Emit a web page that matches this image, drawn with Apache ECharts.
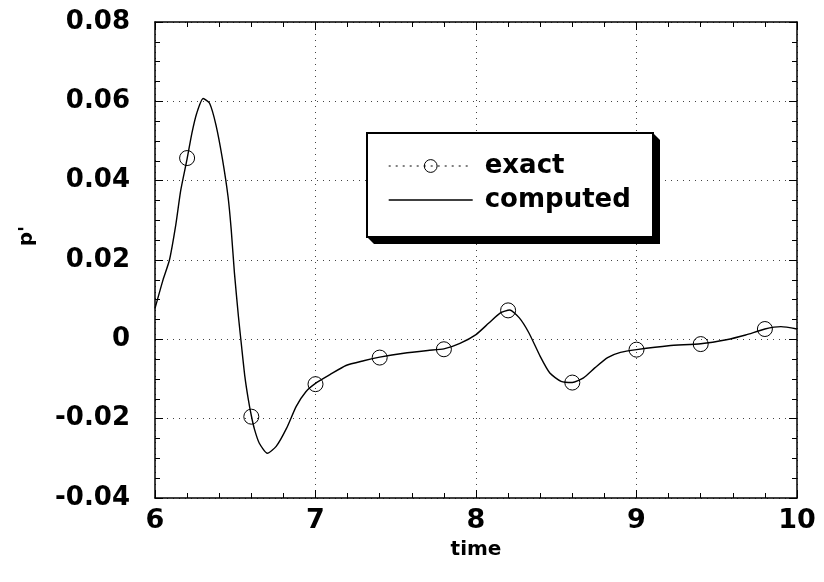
<!DOCTYPE html>
<html>
<head>
<meta charset="utf-8">
<script src="https://cdn.jsdelivr.net/npm/echarts@6/dist/echarts.min.js"></script>
<style>
  html, body { margin: 0; padding: 0; background: #fff; }
  #chart { width: 824px; height: 582px; }
</style>
</head>
<body>
<div id="chart"></div>
<script>
// computed solution
const timeComputed = [6.00, 6.05, 6.09, 6.13, 6.16, 6.20, 6.23, 6.26, 6.30, 6.34, 6.38, 6.42, 6.455, 6.475, 6.495, 6.52,
  6.54, 6.56, 6.58, 6.60, 6.62, 6.65, 6.70, 6.755, 6.82, 6.88, 6.94, 7.00, 7.09, 7.19, 7.30, 7.40, 7.55, 7.70, 7.80, 7.90, 8.00,
  8.08, 8.15, 8.21, 8.27, 8.33, 8.40, 8.46, 8.53, 8.60, 8.67, 8.74, 8.82, 8.90, 9.00, 9.20, 9.40, 9.56, 9.68, 9.80, 9.90, 10.00];
const pComputed = [0.0078, 0.0150, 0.0200, 0.0290, 0.0375, 0.0455, 0.0520, 0.0570, 0.0607, 0.0595, 0.0540, 0.0455, 0.0360, 0.0276, 0.0167, 0.0057,
  -0.0020, -0.0094, -0.0148, -0.0192, -0.0227, -0.0262, -0.0287, -0.0270, -0.0224, -0.0169, -0.0132, -0.0111, -0.0089, -0.0066, -0.0054, -0.0045, -0.0035, -0.0028, -0.0024, -0.0010, 0.0012,
  0.0041, 0.0066, 0.0074, 0.0054, 0.0016, -0.0043, -0.0085, -0.0106, -0.0109, -0.0097, -0.0072, -0.0046, -0.0033, -0.0026, -0.0016, -0.0011, -0.0001, 0.0011, 0.0026, 0.0032, 0.0026];

// exact solution (circles)
const timeExact = [6.2, 6.6, 7.0, 7.4, 7.8, 8.2, 8.6, 9.0, 9.4, 9.8];
const pExact = [0.0457, -0.0195, -0.0113, -0.0046, -0.0025, 0.0073, -0.0109, -0.0026, -0.0012, 0.0026];

const FONT = '"DejaVu Sans", "Liberation Sans", Arial, sans-serif';
const INK = '#000';

const pairs = (xs, ys) => xs.map((x, i) => [x, ys[i]]);

const boxAxis = {
  axisLine: { show: true, onZero: false, lineStyle: { color: INK, width: 1.5 } },
  axisTick: { show: true, inside: true, length: 8, lineStyle: { color: INK } },
  minorTick: { show: true, length: 5, lineStyle: { color: INK } },
};

const xBase = { type: 'value', min: 6, max: 10, interval: 1, ...boxAxis, minorTick: { ...boxAxis.minorTick, splitNumber: 5 } };
const yBase = { type: 'value', min: -0.04, max: 0.08, interval: 0.02, ...boxAxis, minorTick: { ...boxAxis.minorTick, splitNumber: 4 } };

const dotted = { show: true, lineStyle: { color: '#444', width: 1, type: [1, 5] } };

// legend frame: white box with a black extruded edge to the lower right
const box = { x: 367, y: 133, w: 286, h: 104, d: 7 };

const chart = echarts.init(document.getElementById('chart'));

chart.setOption({
  animation: false,
  backgroundColor: '#fff',
  textStyle: { fontFamily: FONT, color: INK },
  grid: { left: 155, right: 27, top: 22, bottom: 84 },
  graphic: [
    {
      type: 'polygon', z: 5,
      shape: { points: [
        [box.x + box.w, box.y], [box.x + box.w + box.d, box.y + box.d],
        [box.x + box.w + box.d, box.y + box.h + box.d], [box.x + box.d, box.y + box.h + box.d],
        [box.x, box.y + box.h]
      ] },
      style: { fill: INK }
    },
    {
      type: 'rect', z: 6,
      shape: { x: box.x, y: box.y, width: box.w, height: box.h },
      style: { fill: '#fff', stroke: INK, lineWidth: 2 }
    }
  ],
  legend: {
    z: 10,
    orient: 'vertical',
    left: box.x,
    top: box.y,
    padding: [20, 10, 10, 21],
    itemGap: 8,
    itemWidth: 84,
    itemHeight: 16,
    textStyle: { fontFamily: FONT, fontSize: 26, fontWeight: 'bold', color: INK, padding: [0, 0, 0, 7] },
    data: [
      {
        name: 'exact',
        lineStyle: { opacity: 1, color: INK, width: 1, type: [2, 5] },
        itemStyle: { color: 'transparent', borderColor: INK, borderWidth: 1 },
      },
      {
        name: 'computed',
        lineStyle: { color: INK, width: 1.4 },
        itemStyle: { opacity: 0 },
      },
    ],
  },
  xAxis: [
    {
      ...xBase,
      position: 'bottom',
      splitLine: dotted,
      axisLabel: { margin: 9, fontSize: 27, fontWeight: 'bold', color: INK, fontFamily: FONT },
      name: 'time',
      nameLocation: 'middle',
      nameGap: 42,
      nameTextStyle: { fontSize: 20, fontWeight: 'bold', color: INK, fontFamily: FONT },
    },
    { ...xBase, position: 'top', splitLine: { show: false }, axisLabel: { show: false } },
  ],
  yAxis: [
    {
      ...yBase,
      position: 'left',
      splitLine: dotted,
      axisLabel: {
        margin: 25, fontSize: 26, fontWeight: 'bold', color: INK, fontFamily: FONT,
        formatter: v => (Math.abs(v) < 1e-9 ? '0' : v.toFixed(2)),
      },
      name: "p'",
      nameLocation: 'middle',
      nameGap: 118,
      nameTextStyle: { fontSize: 20, fontWeight: 'bold', color: INK, fontFamily: FONT, padding: [0, 0, 0, 48] },
    },
    { ...yBase, position: 'right', splitLine: { show: false }, axisLabel: { show: false } },
  ],
  series: [
    {
      name: 'exact',
      type: 'line',
      data: pairs(timeExact, pExact),
      symbol: 'circle',
      symbolSize: 15,
      itemStyle: { color: 'transparent', borderColor: INK, borderWidth: 1 },
      lineStyle: { color: INK, width: 1, type: [2, 5], opacity: 0 },
      z: 3,
    },
    {
      name: 'computed',
      type: 'line',
      data: pairs(timeComputed, pComputed),
      smooth: 0.2,
      showSymbol: false,
      symbol: 'none',
      lineStyle: { color: INK, width: 1.4 },
      itemStyle: { color: INK },
      z: 2,
    },
  ],
});
</script>
</body>
</html>
